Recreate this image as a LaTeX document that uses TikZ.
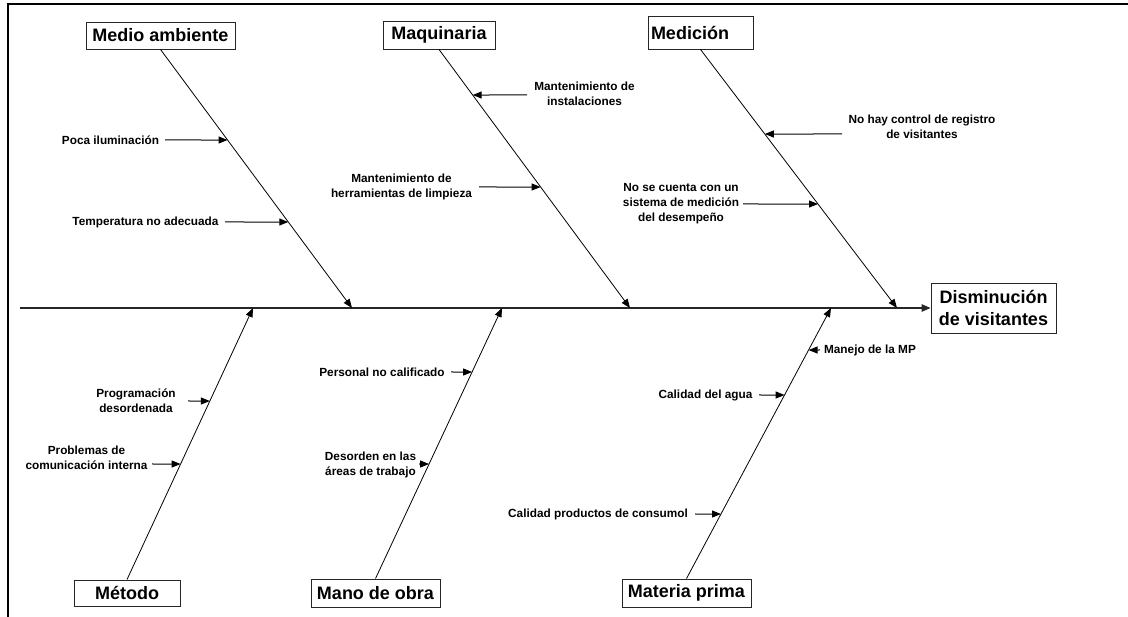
\documentclass[tikz,border=0pt]{standalone}
\usepackage{fontspec}
\setmainfont{Liberation Sans}
\usetikzlibrary{arrows.meta}
\begin{document}
\begin{tikzpicture}[x=1pt,y=-1pt,
  box/.style={draw=black!85, line width=0.9pt, font=\bfseries\fontsize{18}{22}\selectfont, inner sep=0pt, align=center},
  lbl/.style={font=\bfseries\fontsize{11.8}{15}\selectfont, inner sep=0pt, align=center},
  bone/.style={line width=0.8pt, -{Triangle[length=9pt,width=7pt]}},
  sub/.style={line width=1pt, -{Triangle[length=9pt,width=7pt]}},
  spine/.style={line width=1.2pt, draw=black!85, -{Triangle[length=9pt,width=7.5pt]}},
  frame/.style={line width=2.2pt, line join=miter}]
\useasboundingbox (0,0) rectangle (1128,617);
% frame
\draw[frame] (8,617) -- (8,4) -- (1128,4);
% boxes
\node[box, minimum width=149pt, minimum height=27pt] (env) at (160.5,35.5) {Medio ambiente};
\node[box, minimum width=112pt, minimum height=28pt] (mach) at (439,35) {Maquinaria};
\node[box, text width=99pt, align=left, inner xsep=3pt, minimum height=33pt] (meas) at (700.5,32.5) {Medición};
\node[box, minimum width=125pt, minimum height=50pt] (eff) at (993.5,308) {Disminución\\de visitantes};
\node[box, minimum width=106pt, minimum height=26pt] (met) at (127,593) {Método};
\node[box, minimum width=129pt, minimum height=28pt] (mano) at (375.5,593) {Mano de obra};
\node[box, minimum width=129pt, minimum height=28pt] (mat) at (686.5,593) {Materia prima};
% spine
\coordinate (sp0) at (20,308);
\draw[spine] (sp0) -- (eff.west);
\coordinate (s1) at (352,308);
\coordinate (s2) at (630,308);
\coordinate (s3) at (897,308);
\coordinate (s4) at (253,308);
\coordinate (s5) at (502,308);
\coordinate (s6) at (831,308);
% bones
\draw[bone] (env.south) -- (s1);
\draw[bone] (mach.south) -- (s2);
\draw[bone] (meas.south) -- (s3);
\draw[bone] (met.north) -- (s4);
\draw[bone] (mano.north) -- (s5);
\draw[bone] (mat.north) -- (s6);
% tips on bones
\coordinate (t1) at (intersection of env.south--s1 and 0,140--1100,140);
\coordinate (t2) at (intersection of env.south--s1 and 0,222--1100,222);
\coordinate (t3) at (intersection of mach.south--s2 and 0,95--1100,95);
\coordinate (t4) at (intersection of mach.south--s2 and 0,187--1100,187);
\coordinate (t5) at (intersection of meas.south--s3 and 0,134--1100,134);
\coordinate (t6) at (intersection of meas.south--s3 and 0,204--1100,204);
\coordinate (t7) at (intersection of met.north--s4 and 0,401--1100,401);
\coordinate (t8) at (intersection of met.north--s4 and 0,464--1100,464);
\coordinate (t9) at (intersection of mano.north--s5 and 0,372--1100,372);
\coordinate (t10) at (intersection of mano.north--s5 and 0,464--1100,464);
\coordinate (t11) at (intersection of mat.north--s6 and 0,350--1100,350);
\coordinate (t12) at (intersection of mat.north--s6 and 0,395--1100,395);
\coordinate (t13) at (intersection of mat.north--s6 and 0,514--1100,514);
% tails
\coordinate (a1) at (165,140);
\coordinate (a2) at (225,222);
\coordinate (a3) at (527,95);
\coordinate (a4) at (479,187);
\coordinate (a5) at (842,134);
\coordinate (a6) at (743,204);
\coordinate (a7) at (188,401);
\coordinate (a8) at (152,464);
\coordinate (a9) at (451,372);
\coordinate (a10) at (419,464);
\coordinate (a11) at (820,350);
\coordinate (a12) at (759,395);
\coordinate (a13) at (695,514);
% labels
\node[lbl] (poca) at (110.5,140) {Poca iluminación};
\node[lbl] (temp) at (145.5,222) {Temperatura no adecuada};
\node[lbl] (mant1) at (584.5,94) {Mantenimiento de\\instalaciones};
\node[lbl] (mant2) at (401.5,187) {Mantenimiento de\\herramientas de limpieza};
\node[lbl] (nohay) at (922,126.5) {No hay control de registro\\de visitantes};
\node[lbl] (nose) at (681,204) {No se cuenta con un\\sistema de medición\\del desempeño};
\node[lbl] (prog) at (136,401) {Programación\\desordenada};
\node[lbl] (prob) at (86.5,458) {Problemas de\\comunicación interna};
\node[lbl] (pers) at (382,372) {Personal no calificado};
\node[lbl] (deso) at (370.5,465) {Desorden en las\\áreas de trabajo};
\node[lbl] (manejo) at (870,350) {Manejo de la MP};
\node[lbl] (agua) at (705.5,395) {Calidad del agua};
\node[lbl] (calprod) at (598,514) {Calidad productos de consumol};
% sub-cause arrows
\draw[sub] (a1) -- (t1);
\draw[sub] (a2) -- (t2);
\draw[sub] (a3) -- (t3);
\draw[sub] (a4) -- (t4);
\draw[sub] (a5) -- (t5);
\draw[sub] (a6) -- (t6);
\draw[sub] (a7) -- (t7);
\draw[sub] (a8) -- (t8);
\draw[sub] (a9) -- (t9);
\draw[sub] (a10) -- (t10);
\draw[sub] (a11) -- (t11);
\draw[sub] (a12) -- (t12);
\draw[sub] (a13) -- (t13);
\end{tikzpicture}
\end{document}
